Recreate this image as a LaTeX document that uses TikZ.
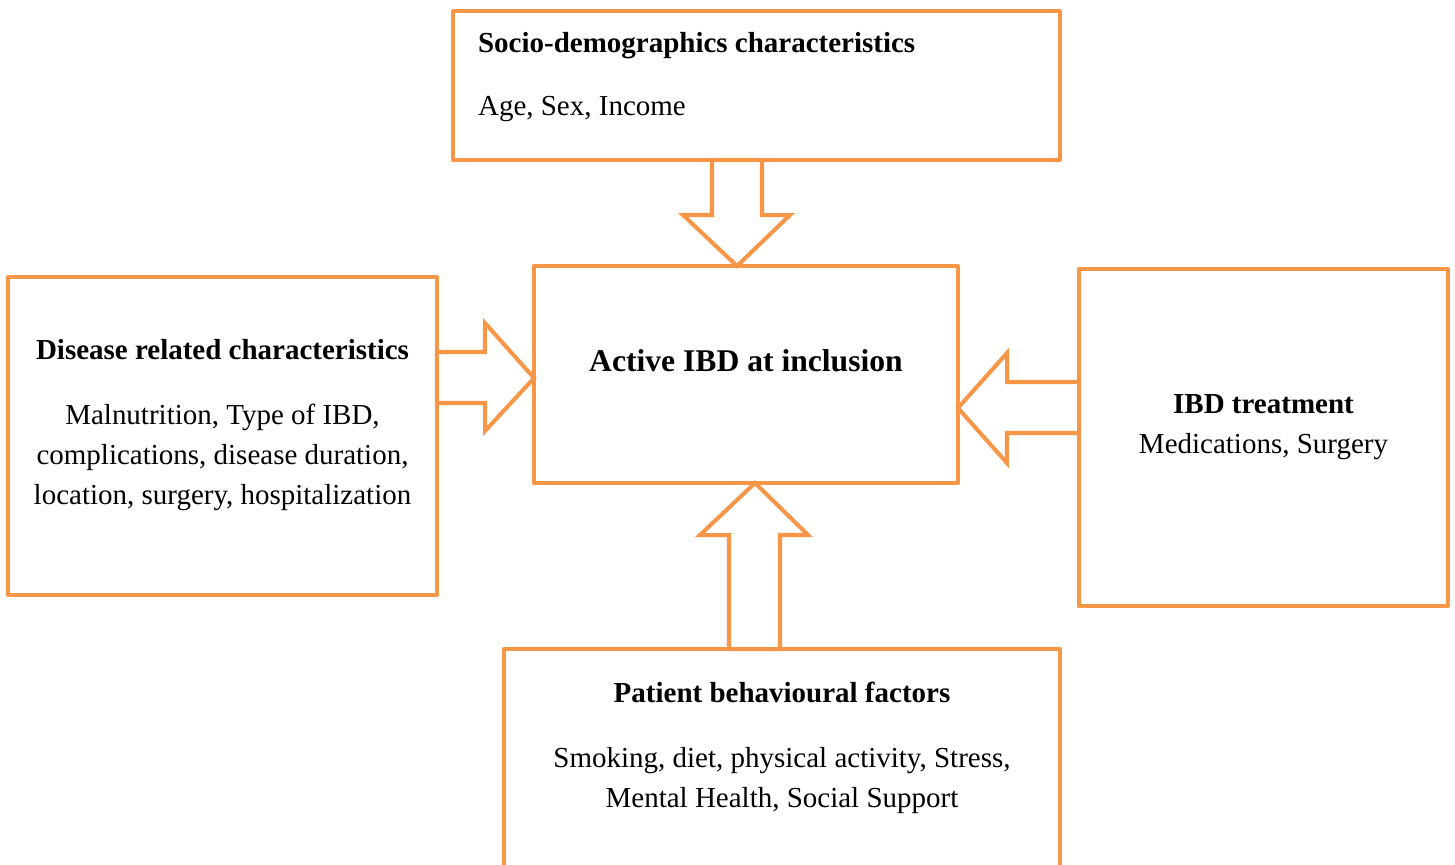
\documentclass[tikz,border=0pt]{standalone}
\usepackage{fontspec}
\setmainfont{Liberation Serif}
\usetikzlibrary{calc}
\definecolor{boxorange}{HTML}{F79646}

\begin{document}
\begin{tikzpicture}[x=0.02cm,y=-0.02cm,line width=2.3pt,
  box/.style={draw=boxorange,rectangle,line join=round,outer sep=0pt},
  fat/.style={draw=boxorange,line join=miter},
  txt/.style={font=\fontsize{16.5}{22.8}\selectfont,inner sep=0pt}]
  \useasboundingbox (0,0) rectangle (1455,865);
  \clip (0,0) rectangle (1455,865);

  \node[box,minimum width=12.14cm,minimum height=2.98cm] (socio)  at (756.5,85.5) {};
  \node[box,minimum width=8.48cm,minimum height=4.34cm]  (active) at (746,374.5)  {};
  \node[box,minimum width=8.58cm,minimum height=6.36cm]  (disease) at (222.5,436) {};
  \node[box,minimum width=7.38cm,minimum height=6.74cm]  (treat)  at (1263.5,437.5) {};
  \node[box,minimum width=11.12cm,minimum height=5.12cm] (behav)  at (782,777)    {};

  \node[txt,align=left,anchor=west] (sociotxt) at ($(socio.west)+(23,-8)$)
    {\textbf{Socio-demographics characteristics}\\[0.46cm] Age, Sex, Income};
  \node[txt,font=\fontsize{18}{24}\selectfont\bfseries] (activetxt) at ($(active)+(0,-13.5)$)
    {Active IBD at inclusion};
  \node[txt,align=center] (diseasetxt) at ($(disease)+(0,-11)$)
    {\textbf{Disease related characteristics}\\[0.5cm] Malnutrition, Type of IBD,\\ complications, disease duration,\\ location, surgery, hospitalization};
  \node[txt,align=center] (treattxt) at ($(treat)+(0,-10)$)
    {\textbf{IBD treatment}\\ Medications, Surgery};
  \node[txt,align=center] (behavtxt) at ($(behav)+(0,-29.5)$)
    {\textbf{Patient behavioural factors}\\[0.5cm] Smoking, diet, physical activity, Stress,\\ Mental Health, Social Support};

  \draw[fat] ($(socio.south)+(-44.5,0)$) -- ++(0,55) -- ++(-29,0) -- ($(active.north)+(-9,0)$)
    -- ++(53,-51) -- ++(-28,0) -- ($(socio.south)+(5.5,0)$) -- cycle;
  \draw[fat] ($(disease.east)+(0,-84)$) -- ++(48,0) -- ++(0,-29) -- ($(active.west)+(0,3.5)$)
    -- ++(-49,53) -- ++(0,-28) -- ($(disease.east)+(0,-33)$) -- cycle;
  \draw[fat] ($(treat.west)+(0,-55.5)$) -- ++(-72,0) -- ++(0,-29) -- ($(active.east)+(0,33.5)$)
    -- ++(49,55) -- ++(0,-30) -- ($(treat.west)+(0,-4.5)$) -- cycle;
  \draw[fat] ($(behav.north)+(-53,0)$) -- ++(0,-114) -- ++(-29,0) -- ($(active.south)+(9,0)$)
    -- ++(53,52) -- ++(-28,0) -- ($(behav.north)+(-2,0)$) -- cycle;
\end{tikzpicture}
\end{document}
